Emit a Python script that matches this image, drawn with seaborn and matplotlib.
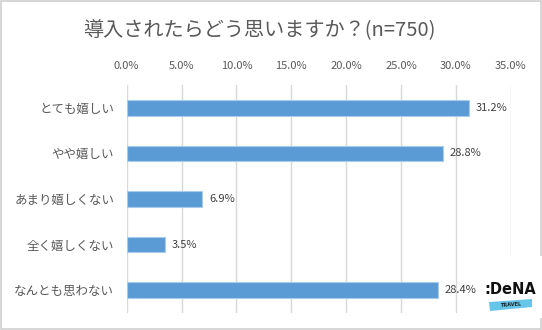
import matplotlib
matplotlib.use("Agg")
import matplotlib.pyplot as plt
import matplotlib.patches as mpatches
import seaborn as sns
import pandas as pd

# Survey answers and share of respondents (%)
categories = ["とても嬉しい", "やや嬉しい", "あまり嬉しくない", "全く嬉しくない", "なんとも思わない"]
values = [31.2, 28.8, 6.9, 3.5, 28.4]
tick_values = [0, 5, 10, 15, 20, 25, 30, 35]
tick_labels = [f"{v:.1f}%" for v in tick_values]
title = "導入されたらどう思いますか？(n=750)"

sns.set_theme(style="white")
plt.rcParams["font.family"] = ["Noto Sans CJK JP", "DejaVu Sans"]

df = pd.DataFrame({"category": categories, "value": values})

fig = plt.figure(figsize=(5.42, 3.30), dpi=100)
fig.patch.set_facecolor("white")
ax = fig.add_axes([126.7 / 542, 1 - 313 / 330, 384 / 542, 228 / 330])

sns.barplot(data=df, x="value", y="category", order=categories, color="#5B9BD5",
            saturation=1, width=0.34, edgecolor="#A9CBEA", linewidth=0.8, ax=ax, zorder=3)

ax.set_xlim(0, 35)
ax.set_ylim(4.5, -0.5)
ax.set_xticks(tick_values)
ax.set_xticklabels(tick_labels)
ax.xaxis.tick_top()
ax.tick_params(axis="x", length=0, pad=10, labelsize=8, labelcolor="#595959")
ax.tick_params(axis="y", length=0, pad=9, labelsize=9, labelcolor="#595959")
ax.set_xlabel("")
ax.set_ylabel("")
ax.grid(axis="x", color="#D9D9D9", linewidth=1, zorder=0)
for s in ax.spines.values():
    s.set_visible(False)

for i, v in enumerate(values):
    ax.text(v + 0.6, i, f"{v:.1f}%", va="center", ha="left", fontsize=8,
            color="#404040", zorder=4)

fig.text(0.479, 1 - 31 / 330, title, ha="center", va="center", fontsize=14.5,
         color="#595959")

# Brand mark in the lower right corner
fig.patches.append(mpatches.Rectangle((486 / 542, 1 - 318 / 330), 56 / 542, 62 / 330,
                                      transform=fig.transFigure, facecolor="white",
                                      edgecolor="none", zorder=4))
fig.patches.append(mpatches.Polygon(
    [[490 / 542, 1 - 311 / 330], [532 / 542, 1 - 307 / 330],
     [532 / 542, 1 - 299 / 330], [489 / 542, 1 - 302 / 330]],
    closed=True, transform=fig.transFigure, facecolor="#66C6EA", edgecolor="none", zorder=5))
fig.text(511 / 542, 1 - 305 / 330, "TRAVEL", ha="center", va="center", fontsize=3.6,
         fontweight="bold", color="#222222", rotation=4, zorder=6, family="DejaVu Sans")
fig.text(510 / 542, 1 - 289 / 330, ":DeNA", ha="center", va="center", fontsize=10.5,
         fontweight="bold", color="#111111", zorder=6, family="DejaVu Sans Condensed")

# Thin outer frame
fig.patches.append(mpatches.Rectangle((0.001, 0.002), 0.997, 0.995, transform=fig.transFigure,
                                      fill=False, edgecolor="#D0D0D0", linewidth=1.2))

fig.savefig("out.png", dpi=100, facecolor="white")
